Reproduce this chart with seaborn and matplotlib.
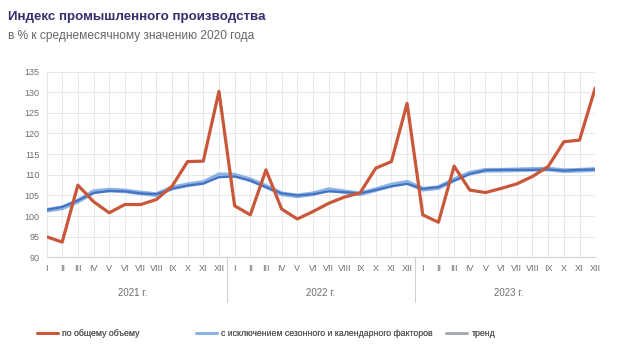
import numpy as np
import pandas as pd
import matplotlib
matplotlib.use("Agg")
import matplotlib.pyplot as plt
from matplotlib.lines import Line2D
import seaborn as sns

months = ["I", "II", "III", "IV", "V", "VI", "VII", "VIII", "IX", "X", "XI", "XII"]
years = ["2021 г.", "2022 г.", "2023 г."]

total = [95.0, 93.7, 107.5, 103.5, 100.8, 102.8, 102.8, 104.0, 107.2, 113.2, 113.3, 130.2,
         102.5, 100.3, 111.2, 101.7, 99.3, 101.1, 103.1, 104.6, 105.6, 111.6, 113.2, 127.3,
         100.3, 98.5, 112.1, 106.3, 105.7, 106.7, 107.8, 109.6, 112.0, 118.0, 118.4, 131.0]
seas_adj = [101.4, 102.0, 103.6, 105.9, 106.3, 106.1, 105.6, 105.2, 106.8, 107.6, 108.1, 110.0,
            109.9, 108.8, 107.2, 105.4, 104.9, 105.4, 106.4, 105.9, 105.4, 106.4, 107.5, 108.2,
            106.5, 106.9, 108.8, 110.4, 111.1, 111.1, 111.2, 111.3, 111.4, 111.0, 111.1, 111.3]
trend = [101.5, 102.2, 103.8, 105.6, 106.1, 106.0, 105.5, 105.3, 106.6, 107.4, 107.9, 109.4,
         109.6, 108.6, 107.0, 105.5, 105.0, 105.3, 106.0, 105.8, 105.5, 106.3, 107.2, 107.8,
         106.6, 107.0, 108.6, 110.2, 111.1, 111.2, 111.2, 111.2, 111.3, 111.0, 111.2, 111.3]
legend_labels = ["по общему объему", "с исключением сезонного и календарного факторов", "тренд"]

n = len(total)
df = pd.DataFrame({"x": np.arange(n), "total": total, "sa": seas_adj, "trend": trend})

sns.set_theme(style="white")
plt.rcParams["font.family"] = ["Liberation Sans", "DejaVu Sans"]

fig = plt.figure(figsize=(6.2, 3.56), dpi=100)
ax = fig.add_axes([0.075, 0.277, 0.885, 0.522])

c_red = "#C9573A"
c_light = "#8DB3E2"
c_dark = "#4472C4"

sns.lineplot(data=df, x="x", y="sa", ax=ax, color=c_light, linewidth=3.4, zorder=3)
sns.lineplot(data=df, x="x", y="trend", ax=ax, color=c_dark, linewidth=1.6, zorder=4)
sns.lineplot(data=df, x="x", y="total", ax=ax, color=c_red, linewidth=2.3, zorder=5)

ax.set_xlim(0, n - 1)
ax.set_ylim(90, 135)
ax.set_yticks(np.arange(90, 136, 5))
ax.set_xticks(np.arange(n))
ax.set_xticklabels(months * 3)
ax.set_xlabel("")
ax.set_ylabel("")
ax.grid(True, color="#E8E8E8", linewidth=0.7)
ax.set_axisbelow(True)
for s in ["top", "right", "left"]:
    ax.spines[s].set_visible(False)
ax.spines["bottom"].set_color("#D0D0D0")
ax.spines["bottom"].set_linewidth(0.8)
ax.tick_params(axis="both", labelsize=6.5, colors="#6E6E6E", length=0, pad=5)

# year labels and separators
for i, yl in enumerate(years):
    ax.text(i * 12 + 5.5, -0.19, yl, transform=ax.get_xaxis_transform(),
            ha="center", va="center", fontsize=7, color="#6E6E6E")
for b in [11.5, 23.5]:
    ax.plot([b, b], [0, -0.24], transform=ax.get_xaxis_transform(),
            color="#D0D0D0", linewidth=0.8, clip_on=False)

fig.text(0.013, 0.953, "Индекс промышленного производства", fontsize=9.6,
         fontweight="bold", color="#35306E", ha="left", va="center")
fig.text(0.013, 0.9, "в % к среднемесячному значению 2020 года", fontsize=8.6,
         color="#666666", ha="left", va="center")

handles = [Line2D([0], [0], color=c_red, linewidth=2),
           Line2D([0], [0], color=c_light, linewidth=2),
           Line2D([0], [0], color="#A6ABB8", linewidth=2)]
xpos = [37, 196, 446]
for h, lab, xp in zip(handles, legend_labels, xpos):
    leg = fig.legend([h], [lab], loc="center left", bbox_to_anchor=(xp / 620, 0.062),
                     frameon=False, fontsize=6.3, handlelength=2.4, handletextpad=0.5,
                     borderaxespad=0, borderpad=0, labelcolor="#595959")
    fig.add_artist(leg)

fig.savefig("out.png", dpi=100)
